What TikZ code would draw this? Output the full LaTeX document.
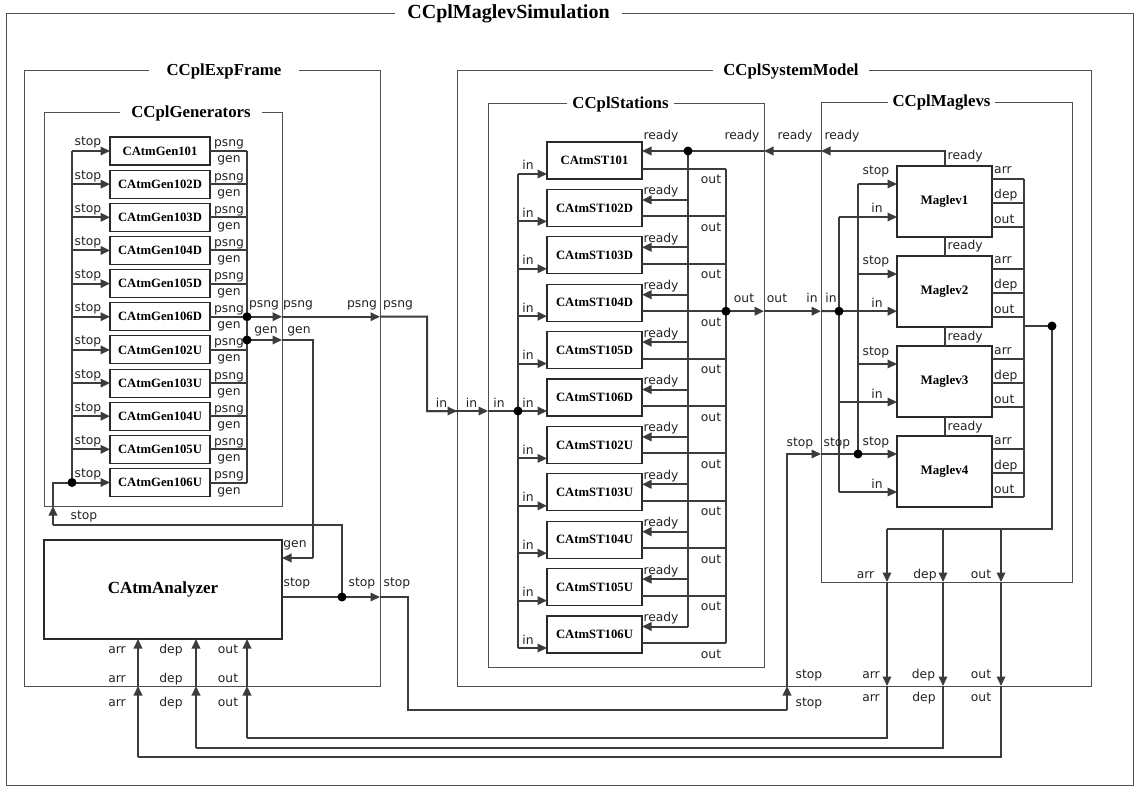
\documentclass[tikz,border=0pt]{standalone}
\usepackage{fontspec}
\setmainfont{Liberation Serif}
\newfontfamily\lblfont{DejaVu Sans}
\usetikzlibrary{arrows.meta,calc}
\definecolor{linec}{HTML}{3C3C3C}
\definecolor{framec}{HTML}{505050}
\definecolor{boxc}{HTML}{2A2A2A}
\definecolor{textc}{HTML}{222222}
\newcounter{labcnt}
\newcommand\plab[3]{\stepcounter{labcnt}\node[lbl] (L\arabic{labcnt}) at (#1,#2) {#3};}
\newcommand\plabw[3]{\stepcounter{labcnt}\node[lbl,anchor=base west] (L\arabic{labcnt}) at (#1,#2) {#3};}
\begin{document}
\begin{tikzpicture}[x=1pt,y=-1pt,
  conn/.style={draw=linec,line width=2pt},
  tip/.style={-{Triangle[length=9.5pt,width=8.5pt]}},
  frame/.style={draw=framec,line width=1pt,rectangle,inner sep=0pt,outer sep=0pt},
  box/.style={draw=boxc,line width=1.1pt,fill=white,rectangle,inner sep=0pt,outer sep=0pt,font=\fontsize{12.7}{14}\selectfont\bfseries},
  lbl/.style={font=\lblfont\fontsize{12.3}{14}\selectfont,text=textc,inner sep=0pt,anchor=base},
  ftitle/.style={fill=white,font=\fontsize{16.8}{20}\selectfont\bfseries,inner ysep=1pt},
  dot/.style={circle,fill=black,inner sep=0pt,minimum size=9pt},
]
\fill[white] (0,0) rectangle (1135,786);
\useasboundingbox (0,0) rectangle (1135,786);

% ---------- frames ----------
\node[frame,minimum width=1127pt,minimum height=771pt] (fSim) at (569.5,399.5) {};
\node[frame,minimum width=356pt,minimum height=615pt] (fExp) at (202,378.5) {};
\node[frame,minimum width=238pt,minimum height=393pt] (fGen) at (163,309.5) {};
\node[frame,minimum width=634pt,minimum height=615pt] (fSys) at (774,378.5) {};
\node[frame,minimum width=276pt,minimum height=563pt] (fSta) at (626,385.5) {};
\node[frame,minimum width=251pt,minimum height=479pt] (fMag) at (946.5,342.5) {};

\node[ftitle,inner xsep=12.5pt,font=\fontsize{20}{24}\selectfont\bfseries] (tSim) at (508.5,14) {CCplMaglevSimulation};
\node[ftitle,inner xsep=18pt] (tExp) at (224,71) {CCplExpFrame};
\node[ftitle,inner xsep=11pt] (tGen) at (191,113) {CCplGenerators};
\node[ftitle,inner xsep=10pt] (tSys) at (791,71) {CCplSystemModel};
\node[ftitle,inner xsep=5pt] (tSta) at (620.5,104) {CCplStations};
\node[ftitle,inner xsep=4.5pt] (tMag) at (941.5,103) {CCplMaglevs};

% ---------- boxes ----------
\foreach \n [count=\i from 0] in {101,102D,103D,104D,105D,106D,102U,103U,104U,105U,106U}{
  \pgfmathsetmacro\cy{151+33.15*\i}
  \node[box,minimum width=100pt,minimum height=28pt] (g\i) at (160,\cy) {CAtmGen\n};
}
\foreach \n [count=\j from 0] in {101,102D,103D,104D,105D,106D,102U,103U,104U,105U,106U}{
  \pgfmathsetmacro\cy{160.5+47.4*\j}
  \node[box,minimum width=95pt,minimum height=37pt] (s\j) at (594.5,\cy) {CAtmST\n};
}
\foreach \k in {1,...,4}{
  \pgfmathsetmacro\cy{201.5+90*(\k-1)}
  \node[box,minimum width=95pt,minimum height=71pt,font=\fontsize{13}{15}\selectfont\bfseries] (m\k) at (944.5,\cy) {Maglev\k};
}
\node[box,minimum width=238pt,minimum height=99pt,font=\fontsize{17}{20}\selectfont\bfseries] (ana) at (163,589.5) {CAtmAnalyzer};

% ---------- junction coordinates ----------
\coordinate (jGs) at ($(g10.west)+(-38,0)$);
\coordinate (jP) at ($(g5.east)+(37,0)$);
\coordinate (jG) at (247,340);
\coordinate (jAs) at ($(ana.east)+(60,7.5)$);
\coordinate (jIn) at ($(s5.west)+(-29,13.5)$);
\coordinate (jR) at ($(s0.east)+(46,-9.5)$);
\coordinate (jO) at ($(s3.east)+(84,8.5)$);
\coordinate (jMin) at ($(m2.west)+(-58,19.7)$);
\coordinate (jSm) at ($(m4.west)+(-39,-17.5)$);
\coordinate (jBo) at ($(m2.east)+(32,34.5)$);
\coordinate (jD) at ($(m2.east)+(60,34.5)$);
\coordinate (cA) at (887,529);
\coordinate (cD) at (943,529);
\coordinate (cO) at (1001,529);
\coordinate (rA) at (887,738); \coordinate (lA) at ($(ana.south west)+(203,99)$);
\coordinate (rD) at (943,748); \coordinate (lD) at ($(ana.south west)+(152,109)$);
\coordinate (rO) at (1001,757); \coordinate (lO) at ($(ana.south west)+(94,118)$);
\coordinate (sL) at (53,525);
\coordinate (gC) at (313,558);
\coordinate (sB) at (408,710);
\coordinate (sC) at (787,710);

% ---------- generators ----------
\foreach \i in {0,...,10}{
  \draw[conn,tip] ($(g\i.west)+(-38,0)$) -- (g\i.west);
  \draw[conn] (g\i.east) -- ($(g\i.east)+(37,0)$);
}
\draw[conn] ($(g0.west)+(-38,0)$) -- (jGs);
\draw[conn] ($(g0.east)+(37,0)$) -- ($(g10.east)+(37,0)$);

% psng chain
\draw[conn,tip] (jP) -- (fGen.east |- jP);
\draw[conn,tip] (fGen.east |- jP) -- (fExp.east |- jP);
\draw[conn] (fExp.east |- jP) -| (427,411) -- (fSys.west |- jIn);
\draw[conn,tip] (427,411) -- (fSys.west |- jIn);
\draw[conn,tip] (fSys.west |- jIn) -- (fSta.west |- jIn);
\draw[conn] (fSta.west |- jIn) -- (jIn);

% gen chain
\draw[conn,tip] (jG) -- (fGen.east |- jG);
\draw[conn] (fGen.east |- jG) -| (gC);
\draw[conn,tip] (gC) -- (ana.east |- gC);

% analyzer stop chain
\draw[conn] ($(ana.east)+(0,7.5)$) -- (jAs);
\draw[conn,tip] (jAs) -- (fExp.east |- jAs);
\draw[conn] (fExp.east |- jAs) -| (sB) -- (sC);
\draw[conn,tip] (sC) -- (sC |- fSys.south);
\draw[conn,tip] (sC |- fSys.south) |- (fMag.west |- jSm);
\draw[conn] (fMag.west |- jSm) -- (jSm);
\draw[conn] (jAs) |- (sL);
\draw[conn,tip] (sL) -- (sL |- fGen.south);
\draw[conn] (sL |- fGen.south) |- (jGs);

% ---------- stations ----------
\foreach \j in {0,...,10}{
  \draw[conn,tip] ($(s\j.west)+(-29,13.5)$) -- ($(s\j.west)+(0,13.5)$);
  \draw[conn] ($(s\j.east)+(0,8.5)$) -- ($(s\j.east)+(84,8.5)$);
}
\foreach \j in {1,...,10}{
  \draw[conn,tip] ($(s\j.east)+(46,-8)$) -- ($(s\j.east)+(0,-8)$);
}
\draw[conn] ($(s0.west)+(-29,13.5)$) -- ($(s10.west)+(-29,13.5)$);
\draw[conn] (jR) -- ($(s10.east)+(46,-8)$);
\draw[conn] ($(s0.east)+(84,8.5)$) -- ($(s10.east)+(84,8.5)$);

% ready chain
\draw[conn,tip] (m1.north) |- (fMag.west |- jR);
\draw[conn,tip] (fMag.west |- jR) -- (fSta.east |- jR);
\draw[conn] (fSta.east |- jR) -- (jR);
\draw[conn,tip] (jR) -- (s0.east |- jR);

% out chain
\draw[conn,tip] (jO) -- (fSta.east |- jO);
\draw[conn,tip] (fSta.east |- jO) -- (fMag.west |- jO);
\draw[conn] (fMag.west |- jO) -- (jMin);

% ---------- maglevs ----------
\foreach \k/\io in {1/15.5,2/19.7,3/20.5,4/20.5}{
  \draw[conn,tip] ($(m\k.west)+(-39,-17.5)$) -- ($(m\k.west)+(0,-17.5)$);
  \draw[conn,tip] ($(m\k.west)+(-58,\io)$) -- ($(m\k.west)+(0,\io)$);
  \draw[conn] ($(m\k.east)+(0,-22.5)$) -- ($(m\k.east)+(32,-22.5)$);
  \draw[conn] ($(m\k.east)+(0,1.5)$) -- ($(m\k.east)+(32,1.5)$);
  \draw[conn] ($(m\k.east)+(0,25.5)$) -- ($(m\k.east)+(32,25.5)$);
}
\foreach \k [evaluate=\k as \kn using int(\k+1)] in {1,2,3}{
  \draw[conn] (m\k.south) -- (m\kn.north);
}
\draw[conn] ($(m1.west)+(-39,-17.5)$) -- ($(m4.west)+(-39,-17.5)$);
\draw[conn] ($(m1.west)+(-58,15.5)$) -- ($(m4.west)+(-58,20.5)$);
\draw[conn] ($(m1.east)+(32,-22.5)$) -- ($(m4.east)+(32,25.5)$);

% right output chain
\draw[conn] (jBo) -- (jD) |- (cA);
\foreach \c/\r/\l in {cA/rA/lA,cD/rD/lD,cO/rO/lO}{
  \draw[conn,tip] (\c) -- (\c |- fMag.south);
  \draw[conn,tip] (\c |- fMag.south) -- (\c |- fSys.south);
  \draw[conn] (\c |- fSys.south) -- (\r) -- (\l);
  \draw[conn,tip] (\l) -- (\l |- fExp.south);
  \draw[conn,tip] (\l |- fExp.south) -- (\l |- ana.south);
}

% ---------- labels ----------
\foreach \i in {0,...,10}{
  \pgfmathsetmacro\cy{151+33.15*\i}
  \plab{88}{\cy-5}{stop}
  \plab{229}{\cy-4}{psng}
  \plab{229}{\cy+12}{gen}
}
\plab{264}{308}{psng}\plab{298}{308}{psng}\plab{362}{308}{psng}\plab{398}{308}{psng}
\plab{266}{334}{gen}\plab{299}{334}{gen}
\plab{84}{519}{stop}
\plab{295}{547}{gen}
\plab{297}{586}{stop}\plab{362}{586}{stop}\plab{397}{586}{stop}
\plab{117}{653}{arr}\plab{171}{653}{dep}\plab{228}{653}{out}
\plab{117}{682}{arr}\plab{171}{682}{dep}\plab{228}{682}{out}
\plab{117}{706}{arr}\plab{171}{706}{dep}\plab{228}{706}{out}
\plab{441.5}{407}{in}\plab{471.5}{407}{in}\plab{499}{407}{in}

\foreach \j in {0,...,10}{
  \pgfmathsetmacro\cy{160.5+47.4*\j}
  \plab{528}{\cy+9.5}{in}
  \plab{711}{\cy+23.5}{out}
}
\foreach \j in {1,...,10}{
  \pgfmathsetmacro\cy{160.5+47.4*\j}
  \plab{661}{\cy-13}{ready}
}
\plab{661}{140}{ready}\plab{742}{140}{ready}\plab{795}{140}{ready}\plab{842}{140}{ready}
\plab{744}{303}{out}\plab{777}{303}{out}\plab{812}{303}{in}\plab{831}{303}{in}

\foreach \k/\io in {1/15.5,2/19.7,3/20.5,4/20.5}{
  \pgfmathsetmacro\cy{201.5+90*(\k-1)}
  \plab{876}{\cy-26.5}{stop}
  \plab{877}{\cy+\io-4}{in}
  \plabw{994}{\cy-27.5}{arr}
  \plabw{994}{\cy-2.5}{dep}
  \plabw{994}{\cy+22}{out}
  \plabw{947.5}{\cy-41.5}{ready}
}
\plab{800}{446}{stop}\plab{837}{446}{stop}
\plab{865.5}{578}{arr}\plab{925}{578}{dep}\plab{981}{578}{out}
\plab{809}{678}{stop}\plab{871}{678}{arr}\plab{923.5}{678}{dep}\plab{981}{678}{out}
\plab{809}{706}{stop}\plab{871}{701}{arr}\plab{924}{701}{dep}\plab{981}{701}{out}

% ---------- dots ----------
\foreach \d in {jGs,jP,jG,jAs,jIn,jR,jO,jMin,jSm,jD}{
  \node[dot] (d\d) at (\d) {};
}
\end{tikzpicture}
\end{document}
